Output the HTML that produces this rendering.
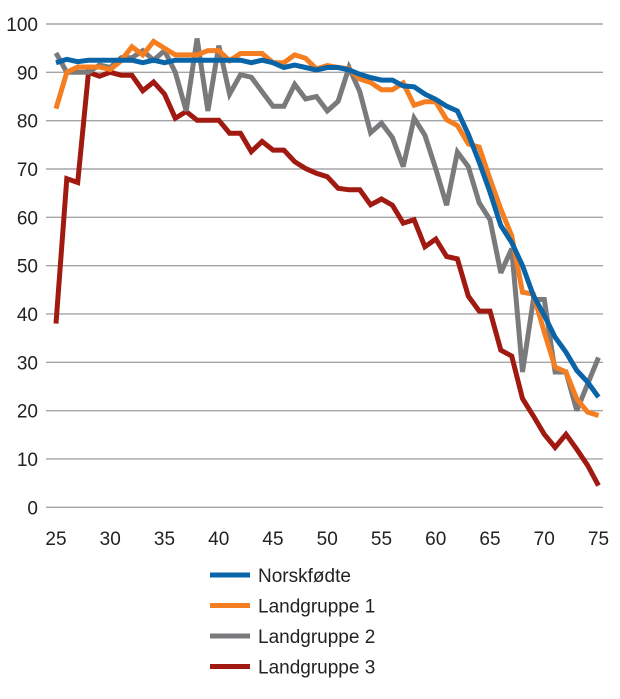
<!DOCTYPE html>
<html><head><meta charset="utf-8"><style>
body{margin:0;background:#fff;}
svg text{font-family:"Liberation Sans",sans-serif;fill:#222;}
</style></head><body>
<svg id="chart" width="620" height="694" xmlns="http://www.w3.org/2000/svg">
<g id="grid"></g>
<g id="yticks"></g>
<g id="xticks"></g>
<g id="lines"></g>
<g id="legend"></g>
</svg>
<script>
const years = [];
for (let y = 25; y <= 75; y++) years.push(y);
const yTicks = [0,10,20,30,40,50,60,70,80,90,100];
const xTicks = [25,30,35,40,45,50,55,60,65,70,75];
const seriesNames = ["Norskfødte","Landgruppe 1","Landgruppe 2","Landgruppe 3"];
const norsk = [92,92.7,92.2,92.5,92.5,92.5,92.5,92.5,92,92.5,92,92.5,92.5,92.5,92.5,92.5,92.5,92.5,92,92.5,92,91,91.5,91,90.5,91,91,90.5,89.6,88.9,88.4,88.4,87.2,87,85.5,84.4,83,82,77.2,71.4,65.2,58.3,54.8,50,43.8,39.7,35.2,32.1,28.3,25.9,22.8];
const lg1 = [82.5,90,91.1,91.1,91.1,90.6,92.4,95.3,93.6,96.4,95,93.6,93.6,93.6,94.5,94.5,92.4,93.9,93.9,93.9,92,92,93.6,92.9,90.7,91.4,91,90.7,88.6,87.9,86.4,86.4,87.8,83.2,83.9,83.9,80.2,79,75.2,74.5,67.9,61.7,56.2,44.5,44.1,36.2,29,28,22.4,19.7,19];
const lg2 = [94,90,90,90,91.5,91,93,93,94.5,92.5,94.5,90,82,97,82,95.5,85.5,89.5,89,86,83,83,87.5,84.5,85,82,84,91,86,77.5,79.5,76.5,70.5,80.5,77,70,62.5,73.5,70.5,63,59.5,48.5,53.5,28,43,43,28,28,20,25.5,31];
const lg3 = [38,68,67.2,90,89.2,90,89.4,89.4,86.2,88,85.5,80.5,81.9,80.1,80.1,80.1,77.4,77.4,73.6,75.7,73.9,73.9,71.5,70.1,69.1,68.4,66,65.7,65.7,62.6,63.8,62.5,58.8,59.5,53.9,55.5,51.9,51.4,43.7,40.6,40.6,32.5,31.3,22.5,18.9,15.1,12.4,15.1,12,8.7,4.5];
const colors = ["#0a64a8","#f47e20","#7a7a7c","#a01a12"];
const NS="http://www.w3.org/2000/svg";
const X0=56,X1=598.5,Y0=507.3,Y1=24;
const xs=v=>X0+(v-25)/(75-25)*(X1-X0);
const ys=v=>Y0-(v/100)*(Y0-Y1);
function mk(tag,attrs,parent){const e=document.createElementNS(NS,tag);for(const k in attrs)e.setAttribute(k,attrs[k]);parent.appendChild(e);return e;}
const grid=document.getElementById('grid'),yt=document.getElementById('yticks'),xt=document.getElementById('xticks'),lines=document.getElementById('lines'),leg=document.getElementById('legend');
yTicks.forEach(t=>{
  const l=mk('line',{x1:46,x2:603,y1:ys(t),y2:ys(t),stroke:'#a5a5a8','stroke-width':1.4},grid);
  
  
  const tx=mk('text',{x:38,y:ys(t)+7,'text-anchor':'end','font-size':19},yt);
  tx.textContent=t;
  
  
});
xTicks.forEach(t=>{
  const tx=mk('text',{x:xs(t),y:545,'text-anchor':'middle','font-size':19},xt);
  tx.textContent=t;
  
  
});
const allSeries=[norsk,lg1,lg2,lg3];
const order=[3,2,1,0];
order.forEach(i=>{
  const d=allSeries[i].map((v,j)=>(j?'L':'M')+xs(years[j]).toFixed(1)+','+ys(v).toFixed(1)).join(' ');
  const p=mk('path',{d:d,fill:'none',stroke:colors[i],'stroke-width':5,'stroke-linejoin':'miter','stroke-miterlimit':3},lines);
  
  
});
seriesNames.forEach((n,i)=>{
  const y=575+i*30.5;
  const l=mk('line',{x1:210,x2:250,y1:y,y2:y,stroke:colors[i],'stroke-width':5},leg);
  
  
  const tx=mk('text',{x:258,y:y+7,'font-size':19},leg);
  tx.textContent=n;
  
  
});
</script>
</body></html>
